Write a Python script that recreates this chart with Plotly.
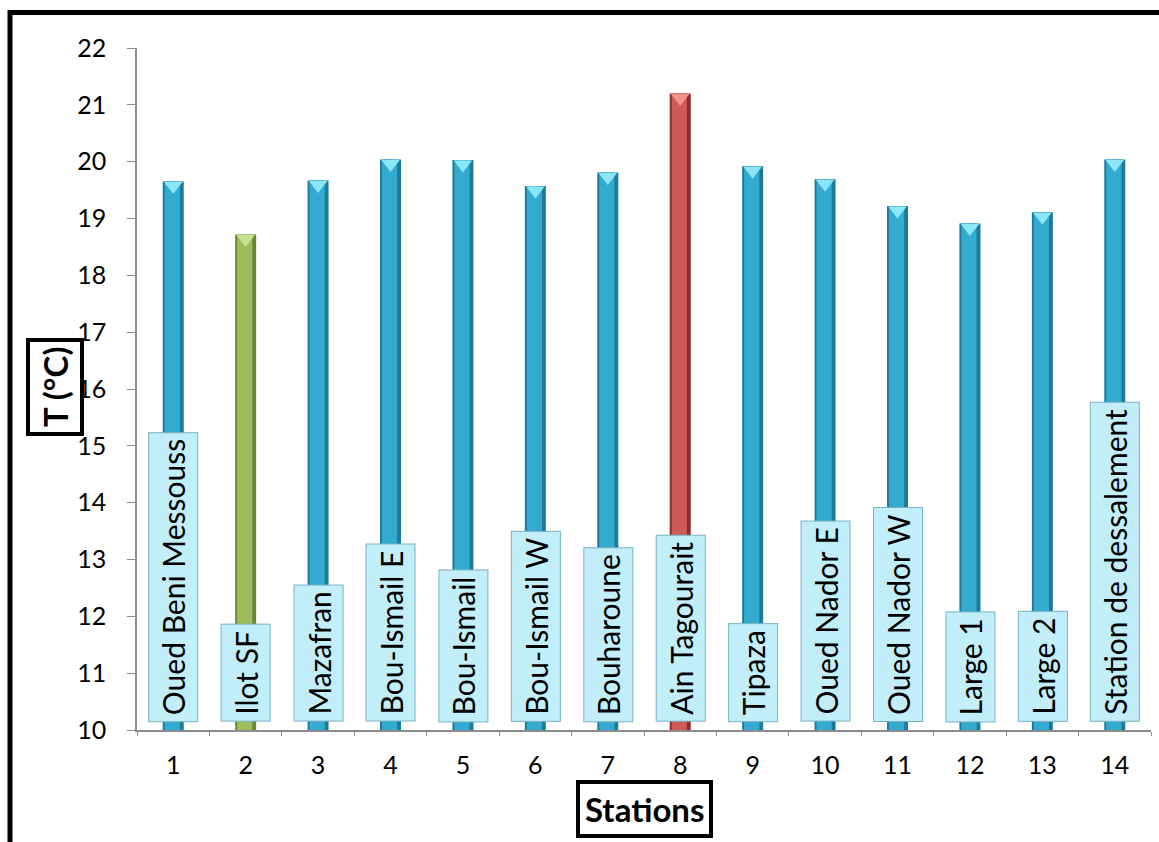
import plotly.graph_objects as go

# ---------------- data ----------------
station_ids = [str(i) for i in range(1, 15)]
station_names = ["Oued Beni Messouss", "Ilot SF", "Mazafran", "Bou-Ismail E",
                 "Bou-Ismail", "Bou-Ismail W", "Bouharoune", "Ain Tagourait",
                 "Tipaza", "Oued Nador E", "Oued Nador W", "Large 1", "Large 2",
                 "Station de dessalement"]
temperature = [19.65, 18.72, 19.67, 20.04, 20.03, 19.57, 19.81, 21.2,
               19.92, 19.69, 19.22, 18.91, 19.11, 20.04]
y_ticks = list(range(10, 23))

# ---------------- styling ----------------
W, H = 1159, 842
ML, MR, MT, MB = 137, 8, 48, 112
Y0, Y1 = 10, 22
plot_h = H - MT - MB
px_per_unit = plot_h / (Y1 - Y0)

FONT = "Lato"
i_min = temperature.index(min(temperature))
i_max = temperature.index(max(temperature))

main_c, edge_c, top_c = [], [], []
for i in range(len(temperature)):
    if i == i_min:
        main_c.append("#9DBD5A"); edge_c.append("#6B8634"); top_c.append("#C9E08F")
    elif i == i_max:
        main_c.append("#CF5A55"); edge_c.append("#8A2D2A"); top_c.append("#F3928D")
    else:
        main_c.append("#33AAD0"); edge_c.append("#1D7A98"); top_c.append("#8BE6F8")

fig = go.Figure()
# outer (dark edges)
fig.add_trace(go.Bar(x=station_ids, y=temperature, width=0.29, offset=-0.145,
                     marker=dict(color=edge_c, line=dict(width=0)),
                     hoverinfo="skip", showlegend=False))
# inner body
fig.add_trace(go.Bar(x=station_ids, y=temperature, width=0.21, offset=-0.118,
                     marker=dict(color=main_c, line=dict(width=0)),
                     hovertemplate="%{x}: %{y} °C<extra></extra>", showlegend=False))
# bevel highlight on top of each bar
tri_size = 16
tri_y = [t - (tri_size / 4 + 0.5) / px_per_unit for t in temperature]
fig.add_trace(go.Scatter(x=station_ids, y=tri_y, mode="markers",
                         marker=dict(symbol="triangle-down", size=tri_size,
                                     color=top_c, line=dict(width=0)),
                         hoverinfo="skip", showlegend=False))

# station name labels (rotated boxes at the base of each bar)
for idx, name in enumerate(station_names):
    fig.add_annotation(x=idx, y=Y0, xref="x", yref="y", yshift=8,
                       text=name, textangle=-90, showarrow=False,
                       xanchor="center", yanchor="bottom",
                       font=dict(family=FONT, size=30, color="#000000"),
                       bgcolor="#C2EEF9", bordercolor="#79B2C2",
                       borderwidth=1, borderpad=6)

# axis titles as boxed annotations
fig.add_annotation(x=(54.5 - ML) / (W - ML - MR), y=(H - MB - 387.5) / plot_h,
                   xref="paper", yref="paper", text="<b>T (°C)</b>", textangle=-90,
                   showarrow=False, xanchor="center", yanchor="middle",
                   font=dict(family=FONT, size=33, color="#000000"),
                   bgcolor="#FFFFFF", bordercolor="#000000", borderwidth=4, borderpad=5)
fig.add_annotation(x=0.5, y=(H - MB - 809) / plot_h,
                   xref="paper", yref="paper", text="<b>Stations</b>",
                   showarrow=False, xanchor="center", yanchor="middle",
                   font=dict(family=FONT, size=33, color="#000000"),
                   bgcolor="#FFFFFF", bordercolor="#000000", borderwidth=4, borderpad=5)

# outer frame (extends beyond right and bottom edges of the picture)
pw = W - ML - MR
fig.add_shape(type="rect", xref="paper", yref="paper",
              x0=(10 - ML) / pw, x1=1.2, y0=-0.3, y1=(H - MB - 12.5) / plot_h,
              line=dict(color="#000000", width=5), fillcolor="rgba(0,0,0,0)",
              layer="above")

fig.update_layout(
    width=W, height=H, autosize=False,
    margin=dict(l=ML, r=MR, t=MT, b=MB, pad=0),
    paper_bgcolor="#FFFFFF", plot_bgcolor="#FFFFFF",
    barmode="overlay", showlegend=False,
    font=dict(family=FONT, color="#000000"),
)
fig.update_xaxes(type="category", range=[-0.5, len(station_ids) - 0.5],
                 showline=True, linecolor="#8C8C8C", linewidth=1.5,
                 ticks="outside", tickson="boundaries", ticklen=4,
                 tickcolor="#8C8C8C", showgrid=False, zeroline=False,
                 tickfont=dict(family=FONT, size=25, color="#000000"),
                 ticklabelstandoff=12)
fig.update_yaxes(range=[Y0, Y1], tickvals=y_ticks,
                 showline=True, linecolor="#8C8C8C", linewidth=1.5,
                 ticks="outside", ticklen=8, tickcolor="#8C8C8C",
                 showgrid=False, zeroline=False,
                 tickfont=dict(family=FONT, size=25, color="#000000"),
                 ticklabelstandoff=16)

fig.write_html("out.html")
